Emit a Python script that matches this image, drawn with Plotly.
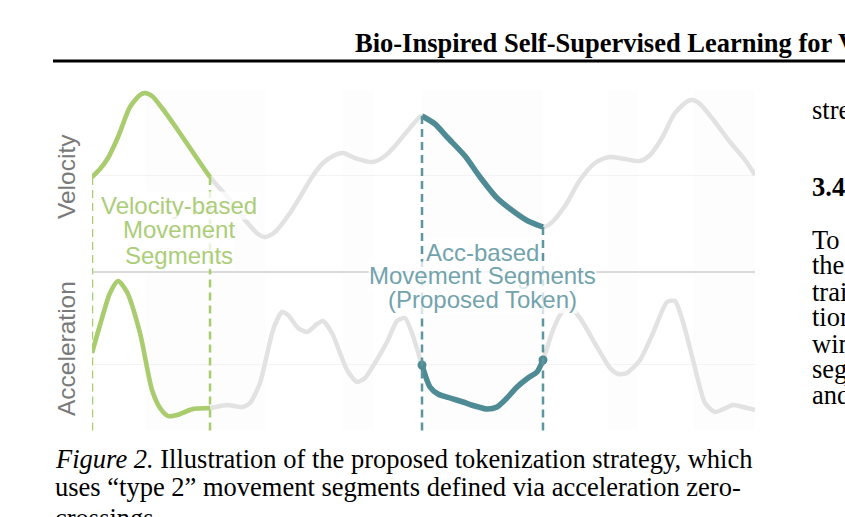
import plotly.graph_objects as go

# ---------------- data ----------------
# time in frames, velocity / acceleration in arbitrary units
vel_t = [0, 8, 16, 26, 38, 48, 53, 60, 70, 83, 98, 113, 118, 123, 138, 153, 166, 173, 183, 198,
         208, 220, 231, 243, 251, 263, 281, 293, 303, 318, 330, 343, 355, 373, 388, 405, 421, 436, 451, 458,
         473, 488, 503, 518, 533, 548, 558, 570, 583, 596, 601, 608, 623, 638, 653, 663]
vel_v = [-0.2, 0.6, 1.7, 3.8, 6.8, 8.0, 8.2, 7.9, 6.7, 4.9, 2.7, 0.5, -0.2, -0.8, -2.5, -4.5, -5.9, -6.2, -5.7, -3.8,
         -2.2, -0.2, 1.2, 2.0, 2.2, 1.7, 1.3, 1.9, 2.9, 4.7, 5.9, 5.1, 3.8, 1.9, -0.2, -2.3, -3.6, -4.6, -5.2, -4.9,
         -3.1, -0.5, 1.2, 1.8, 1.6, 1.4, 2.0, 3.7, 6.2, 7.4, 7.5, 7.1, 5.3, 3.3, 1.5, 0.0]

acc_t = [0, 8, 18, 26, 35, 48, 60, 68, 76, 85, 101, 118, 135, 150, 158, 168, 181, 190, 196, 206,
         215, 225, 231, 240, 255, 265, 273, 283, 295, 305, 313, 321, 330, 338, 346, 358, 371, 383, 395, 405,
         415, 425, 436, 445, 451, 461, 470, 478, 488, 505, 518, 526, 535, 548, 561, 575, 583, 591, 601, 613,
         623, 641, 651, 663]
acc_a = [1.1, 3.9, 7.1, 8.3, 7.2, 3.1, -2.6, -4.4, -5.2, -5.1, -4.5, -4.4, -4.1, -4.3, -3.9, -1.9, 3.4, 5.2, 4.9, 3.6,
         3.2, 4.0, 4.3, 3.1, -0.6, -1.8, -1.4, 0.1, 2.2, 4.3, 4.6, 2.8, -0.1, -2.3, -3.0, -3.4, -3.8, -4.2, -4.5, -4.3,
         -3.4, -2.3, -1.4, -0.8, 0.4, 3.4, 5.2, 5.6, 4.6, 1.7, -0.4, -1.0, -0.9, 0.4, 3.1, 6.2, 6.3, 4.2, 0.4, -3.9,
         -4.8, -4.1, -4.3, -4.6]

vel_segment = [0, 118]      # velocity-based movement segment (frames)
acc_segment = [330, 451]    # acceleration-based movement segment (frames)
decel_bands = [[53, 173], [251, 281], [330, 451], [516, 545], [601, 663]]

vel_label = "Velocity"
acc_label = "Acceleration"
vel_seg_text = ["Velocity-based", "Movement", "Segments"]
acc_seg_text = ["Acc-based", "Movement Segments", "(Proposed Token)"]

header_text = "Bio-Inspired Self-Supervised Learning for V"
caption_lines = ["<i>Figure 2.</i> Illustration of the proposed tokenization strategy, which",
                 "uses \u201ctype 2\u201d movement segments defined via acceleration zero-",
                 "crossings."]
side_lines = [("stream", False, 118), ("3.4. Tokenization", True, 195), ("To", False, 248),
              ("the", False, 273), ("training", False, 300), ("tion", False, 325),
              ("window", False, 352), ("segments", False, 377), ("and", False, 403)]

# ---------------- styling ----------------
W, H = 845, 517
GREEN = "#a9cc6c"
GREEN_TXT = "#abcd78"
TEAL = "#4f8b94"
TEAL_DASH = "#5f959e"
TEAL_TXT = "#72a3ac"
GRAY = "#e2e2e2"

def px(x):
    return x / W

def py(y):
    return 1 - y / H

X0, X1 = 92, 755
VEL_RANGE = [-9.7, 9.0]
ACC_RANGE = [-6.8, 9.2]

def sl(ts, vs, seg):
    pts = [(t, v) for t, v in zip(ts, vs) if seg[0] <= t <= seg[1]]
    return [p[0] for p in pts], [p[1] for p in pts]

fig = go.Figure()

# gray full signals
fig.add_trace(go.Scatter(x=vel_t, y=vel_v, mode="lines", xaxis="x", yaxis="y",
                         line=dict(color=GRAY, width=4.5, shape="spline", smoothing=0.8),
                         hoverinfo="skip", showlegend=False))
fig.add_trace(go.Scatter(x=acc_t, y=acc_a, mode="lines", xaxis="x2", yaxis="y2",
                         line=dict(color=GRAY, width=4.5, shape="spline", smoothing=0.6),
                         hoverinfo="skip", showlegend=False))

# green velocity-based segment
for ts, vs, xa, ya in [(vel_t, vel_v, "x", "y"), (acc_t, acc_a, "x2", "y2")]:
    sx, sy = sl(ts, vs, vel_segment)
    fig.add_trace(go.Scatter(x=sx, y=sy, mode="lines", xaxis=xa, yaxis=ya,
                             line=dict(color=GREEN, width=4.5, shape="spline", smoothing=0.7),
                             hoverinfo="skip", showlegend=False))

# teal acceleration-based segment
sx, sy = sl(vel_t, vel_v, acc_segment)
fig.add_trace(go.Scatter(x=sx, y=sy, mode="lines", xaxis="x", yaxis="y",
                         line=dict(color=TEAL, width=5.5, shape="spline", smoothing=0.7),
                         hoverinfo="skip", showlegend=False))
sx, sy = sl(acc_t, acc_a, acc_segment)
fig.add_trace(go.Scatter(x=sx, y=sy, mode="lines", xaxis="x2", yaxis="y2",
                         line=dict(color=TEAL, width=5.5, shape="spline", smoothing=0.7),
                         hoverinfo="skip", showlegend=False))
fig.add_trace(go.Scatter(x=[sx[0], sx[-1]], y=[sy[0], sy[-1]], mode="markers", xaxis="x2", yaxis="y2",
                         marker=dict(color=TEAL, size=9),
                         hoverinfo="skip", showlegend=False))

shapes = []
# faint deceleration bands
for b0, b1 in decel_bands:
    shapes.append(dict(type="rect", xref="x", yref="paper", x0=b0, x1=b1,
                       y0=py(430), y1=py(90), fillcolor="rgba(0,0,0,0.008)",
                       line=dict(width=0), layer="below"))
# separator between panels
shapes.append(dict(type="line", xref="paper", yref="paper", x0=px(X0), x1=px(X1),
                   y0=py(272), y1=py(272), line=dict(color="#dadada", width=2), layer="below"))

vel_lookup = dict(zip(vel_t, vel_v))
for seg, col in [(vel_segment, GREEN), (acc_segment, TEAL_DASH)]:
    for t in seg:
        shapes.append(dict(type="line", xref="x", yref="y", x0=t, x1=t,
                           y0=vel_lookup[t], y1=VEL_RANGE[0],
                           line=dict(color=col, width=2.5, dash="8px,5px")))
        shapes.append(dict(type="line", xref="x2", yref="y2 domain", x0=t, x1=t,
                           y0=0.01, y1=1,
                           line=dict(color=col, width=2.5, dash="8px,5px")))

# header rule
shapes.append(dict(type="line", xref="paper", yref="paper", x0=px(53), x1=1.0,
                   y0=py(61), y1=py(61), line=dict(color="black", width=3)))

ann = []
LBL_FONT = dict(family="Liberation Sans, Arial, sans-serif", size=24.5, color="#7a7a7a")
ann.append(dict(text=vel_label, x=px(66), y=py(177), xref="paper", yref="paper",
                textangle=-90, showarrow=False, font=LBL_FONT, xanchor="center", yanchor="middle"))
ann.append(dict(text=acc_label, x=px(66), y=py(349), xref="paper", yref="paper",
                textangle=-90, showarrow=False, font=LBL_FONT, xanchor="center", yanchor="middle"))

SEG_FONT = "Liberation Sans, Arial, sans-serif"
for i, line in enumerate(vel_seg_text):
    ann.append(dict(text=line, x=px(179), y=py(205 + 25 * i), xref="paper", yref="paper",
                    showarrow=False, xanchor="center", yanchor="middle",
                    font=dict(family=SEG_FONT, size=24, color=GREEN_TXT),
                    bgcolor="rgba(255,255,255,0.75)", borderpad=0))
for i, line in enumerate(acc_seg_text):
    ann.append(dict(text=line, x=px(482), y=py(252 + 23.5 * i), xref="paper", yref="paper",
                    showarrow=False, xanchor="center", yanchor="middle",
                    font=dict(family=SEG_FONT, size=24, color=TEAL_TXT),
                    bgcolor="rgba(255,255,255,0.75)", borderpad=0))

SERIF = "Liberation Serif, Times New Roman, serif"
ann.append(dict(text="<b>" + header_text + "</b>", x=px(353), y=py(43), xref="paper", yref="paper",
                showarrow=False, xanchor="left", yanchor="middle",
                font=dict(family=SERIF, size=26.5, color="black")))
for i, line in enumerate(caption_lines):
    ann.append(dict(text=line, x=px(53), y=py(459 + 28 * i + (3 if i == 2 else 0)),
                    xref="paper", yref="paper",
                    showarrow=False, xanchor="left", yanchor="middle",
                    font=dict(family=SERIF, size=26.5, color="black")))
for txt, bold, base in side_lines:
    ann.append(dict(text=("<b>" + txt + "</b>") if bold else txt, x=px(810), y=py(base - 8),
                    xref="paper", yref="paper", showarrow=False, xanchor="left", yanchor="middle",
                    font=dict(family=SERIF, size=26.5, color="black")))

axis_common = dict(showgrid=False, showticklabels=False, showline=False, ticks="")
fig.update_layout(
    width=W, height=H, margin=dict(l=0, r=0, t=0, b=0),
    paper_bgcolor="white", plot_bgcolor="white",
    xaxis=dict(domain=[px(X0), px(X1)], range=[0, 663], anchor="y", zeroline=False, **axis_common),
    xaxis2=dict(domain=[px(X0), px(X1)], range=[0, 663], anchor="y2", matches="x", zeroline=False, **axis_common),
    yaxis=dict(domain=[py(272), py(85)], range=VEL_RANGE, anchor="x",
               zeroline=True, zerolinecolor="#f3f3f3", zerolinewidth=1, **axis_common),
    yaxis2=dict(domain=[py(432), py(272)], range=ACC_RANGE, anchor="x2",
                zeroline=True, zerolinecolor="#f3f3f3", zerolinewidth=1, **axis_common),
    shapes=shapes, annotations=ann, showlegend=False,
)

fig.write_html("out.html", config={"displayModeBar": False},
               post_script="document.body.style.margin='0px';document.body.style.overflow='hidden';")
